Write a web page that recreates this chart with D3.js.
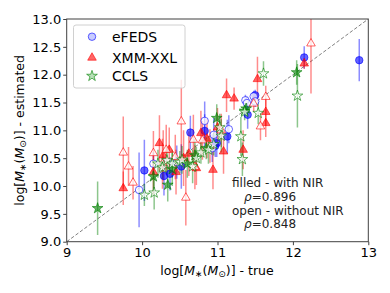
<!DOCTYPE html>
<html><head><meta charset="utf-8">
<script src="https://cdn.jsdelivr.net/npm/d3@7"></script>
<style>body{margin:0;background:#fff}svg{display:block;font-family:"DejaVu Sans",sans-serif}</style>
</head><body><svg id="c" width="390" height="293"></svg>
<script>
// ---- data (x = true, y = estimated, e = half error, f = 1 filled / 0 open) ----
const efedsX = [12.88,12.15,10.64,10.03,10.29,10.83,11.13,11.40,10.99,11.50,10.97,10.37,10.52, 9.96,10.15,10.83,10.95,11.15,11.37,11.39,11.48,10.93,10.46,11.50];
const efedsY = [12.26,12.31,10.96,10.28,10.18,10.99,10.89,11.28,10.77,11.63,10.72,10.22,10.35, 9.93,10.40,11.17,10.92,11.02,11.54,11.49,11.61,10.68,10.43,11.52];
const efedsE = [0.38,0.20,0.30,0.55,0.35,0.30,0.30,0.25,0.25,0.10,0.20,0.30,0.40, 0.67,0.20,0.35,0.30,0.25,0.10,0.12,0.10,0.25,0.30,0.10];
const efedsF = [1,1,1,1,1,1,1,1,1,1,1,1,1, 0,0,0,0,0,0,0,0,0,0,0];

const xmmX = [12.15,9.75,11.53,11.12,11.22,11.64,11.34,11.08,10.94,10.72,10.23,10.28,10.36,10.45,10.55,10.78,10.86,11.00,10.15,11.64,10.62, 12.24,9.75,9.82,9.88,10.52,10.58,11.57,11.64,11.48,10.15,10.32,10.70,10.68,10.80,10.44,10.90,11.05,10.27];
const xmmY = [12.20,9.96,11.92,11.63,11.57,11.33,10.65,10.62,10.29,10.32,10.77,10.55,10.65,10.25,10.50,10.95,10.85,11.05,10.25,11.13,10.58, 12.56,10.60,10.35,10.06,11.16,9.79,11.07,11.60,11.48,10.59,10.65,10.34,10.83,10.82,10.52,10.72,11.00,10.40];
const xmmE = [0.10,0.30,0.40,0.30,0.20,0.25,0.35,0.40,0.35,0.30,0.50,0.45,0.40,0.40,0.50,0.40,0.35,0.35,0.40,0.25,0.40, 0.90,0.65,0.35,0.30,0.75,0.50,0.25,0.20,0.15,0.40,0.45,0.40,0.45,0.35,0.40,0.30,0.30,0.45];
const xmmF = [1,1,1,1,1,1,1,1,1,1,1,1,1,1,1,1,1,1,1,1,1, 0,0,0,0,0,0,0,0,0,0,0,0,0,0,0,0,0,0];

const cclsX = [9.41,12.05,11.38,10.15,10.34,10.99,10.40,10.70,10.60,11.36,10.85, 11.61,12.06,10.03,10.16,11.31,11.33,11.54,11.36,10.21,10.33,10.40,10.50,10.53,10.67,10.72,10.78,10.88,11.03,11.05,10.95,10.27];
const cclsY = [9.60,12.04,11.39,10.17,10.02,11.22,10.30,10.55,10.40,11.35,10.68, 12.02,11.62,9.84,9.88,10.89,10.48,11.31,11.33,10.40,10.46,10.40,10.43,10.47,10.35,10.50,10.60,10.65,11.05,10.90,10.75,10.33];
const cclsE = [0.48,0.22,0.10,0.30,0.30,0.25,0.30,0.30,0.25,0.10,0.20, 0.22,0.57,0.20,0.30,0.35,0.30,0.20,0.15,0.25,0.25,0.25,0.20,0.25,0.30,0.20,0.20,0.25,0.25,0.30,0.20,0.20];
const cclsF = [1,1,1,1,1,1,1,1,1,1,1, 0,0,0,0,0,0,0,0,0,0,0,0,0,0,0,0,0,0,0,0,0];

const xTicks = [9,10,11,12,13];
const yTicks = [9.0,9.5,10.0,10.5,11.0,11.5,12.0,12.5,13.0];
const seriesNames = ["eFEDS","XMM-XXL","CCLS"];
const notes = ["filled - with NIR","\u03C1=0.896","open - without NIR","\u03C1=0.848"];

// ---- layout ----
const svg = d3.select("#c");
const L = 66.7, R = 368.3, T = 19, B = 241.7;
const x = d3.scaleLinear().domain([9,13]).range([L,R]);
const y = d3.scaleLinear().domain([9,13]).range([B,T]);

svg.append("defs").append("clipPath").attr("id","pc")
  .append("rect").attr("x",L).attr("y",T).attr("width",R-L).attr("height",B-T);

const plot = svg.append("g").attr("clip-path","url(#pc)");

// diagonal
plot.append("line").attr("x1",x(9)).attr("y1",y(9)).attr("x2",x(13)).attr("y2",y(13))
  .attr("stroke","#808080").attr("stroke-width",1).attr("stroke-dasharray","3.5,2");

const series = [
  {X:efedsX,Y:efedsY,E:efedsE,F:efedsF,col:"#0000ff",sym:d3.symbolCircle,size:44},
  {X:xmmX,Y:xmmY,E:xmmE,F:xmmF,col:"#ff0000",sym:d3.symbolTriangle,size:32},
  {X:cclsX,Y:cclsY,E:cclsE,F:cclsF,col:"#008000",sym:d3.symbolStar,size:36}
];

// error bars first
series.forEach(s=>{
  const g = plot.append("g");
  s.X.forEach((xv,i)=>{
    g.append("line").attr("x1",x(xv)).attr("x2",x(xv))
      .attr("y1",y(s.Y[i]-s.E[i])).attr("y2",y(s.Y[i]+s.E[i]))
      .attr("stroke",s.col).attr("stroke-opacity",0.45).attr("stroke-width",1.5);
  });
});
// markers
series.forEach(s=>{
  const g = plot.append("g");
  s.X.forEach((xv,i)=>{
    const filled = s.F[i]===1;
    g.append("path").attr("d",d3.symbol().type(s.sym).size(s.size)())
      .attr("transform",`translate(${x(xv)},${y(s.Y[i])})`)
      .attr("fill",filled? s.col : "#ffffff")
      .attr("fill-opacity",filled?0.6:0.75)
      .attr("stroke",s.col).attr("stroke-opacity",0.6).attr("stroke-width",1);
  });
});

// frame
svg.append("rect").attr("x",L).attr("y",T).attr("width",R-L).attr("height",B-T)
  .attr("fill","none").attr("stroke","#404040").attr("stroke-width",1);

// axes
const fs = 13;
const xa = svg.append("g").attr("transform",`translate(0,${B})`)
  .call(d3.axisBottom(x).tickValues(xTicks).tickFormat(d3.format("d")).tickSize(3.5).tickPadding(2.5));
const ya = svg.append("g").attr("transform",`translate(${L},0)`)
  .call(d3.axisLeft(y).tickValues(yTicks).tickFormat(d3.format(".1f")).tickSize(3.5).tickPadding(2));
[xa,ya].forEach(a=>{
  a.select(".domain").remove();
  a.selectAll("line").attr("stroke","#404040");
  a.selectAll("text").attr("font-family","DejaVu Sans").attr("font-size",fs).attr("fill","#000");
});

// axis labels
function mathLabel(g){
  g.append("tspan").text("log[");
  g.append("tspan").attr("font-style","italic").text("M");
  g.append("tspan").attr("font-size",9).attr("dy",2).text("\u2217");
  g.append("tspan").attr("dy",-2).text("(");
  g.append("tspan").attr("font-style","italic").text("M");
  g.append("tspan").attr("font-size",9).attr("dy",2).text("\u2299");
  g.append("tspan").attr("dy",-2).text(")]");
}
const lfs = 12.5;
const xl = svg.append("text").attr("x",217).attr("y",275).attr("text-anchor","middle")
  .attr("font-size",lfs).attr("fill","#000");
mathLabel(xl); xl.append("tspan").text(" - true");
const yl = svg.append("text").attr("transform",`translate(24,${(T+B)/2}) rotate(-90)`).attr("text-anchor","middle")
  .attr("font-size",lfs).attr("fill","#000");
mathLabel(yl); yl.append("tspan").text(" - estimated");

// legend
const lg = svg.append("g");
lg.append("rect").attr("x",73.5).attr("y",25).attr("width",111.5).attr("height",63).attr("rx",2.5)
  .attr("fill","#fff").attr("fill-opacity",0.8).attr("stroke","#d0d0d0");
const legY = [36.7,57.7,76];
const legFill = ["#c8ccff","#ff6666","#b8e0b8"];
series.forEach((s,i)=>{
  lg.append("path").attr("d",d3.symbol().type(s.sym).size(s.size)())
    .attr("transform",`translate(92,${legY[i]})`)
    .attr("fill",legFill[i]).attr("stroke",s.col).attr("stroke-opacity",0.6);
  lg.append("text").attr("x",112).attr("y",legY[i]).attr("dy","0.35em")
    .attr("font-size",14).attr("fill","#000").text(seriesNames[i]);
});

// annotation
const nx = [232,244,232,244], ny = [183,196.7,211,224];
notes.forEach((t,i)=>{
  const tx = svg.append("text").attr("x",nx[i]).attr("y",ny[i]).attr("dy","0.35em")
    .attr("font-size",12).attr("fill","#222");
  if(t.startsWith("\u03C1")){
    tx.append("tspan").attr("font-style","italic").text("\u03C1");
    tx.append("tspan").text(t.slice(1));
  } else tx.text(t);
});
</script></body></html>
